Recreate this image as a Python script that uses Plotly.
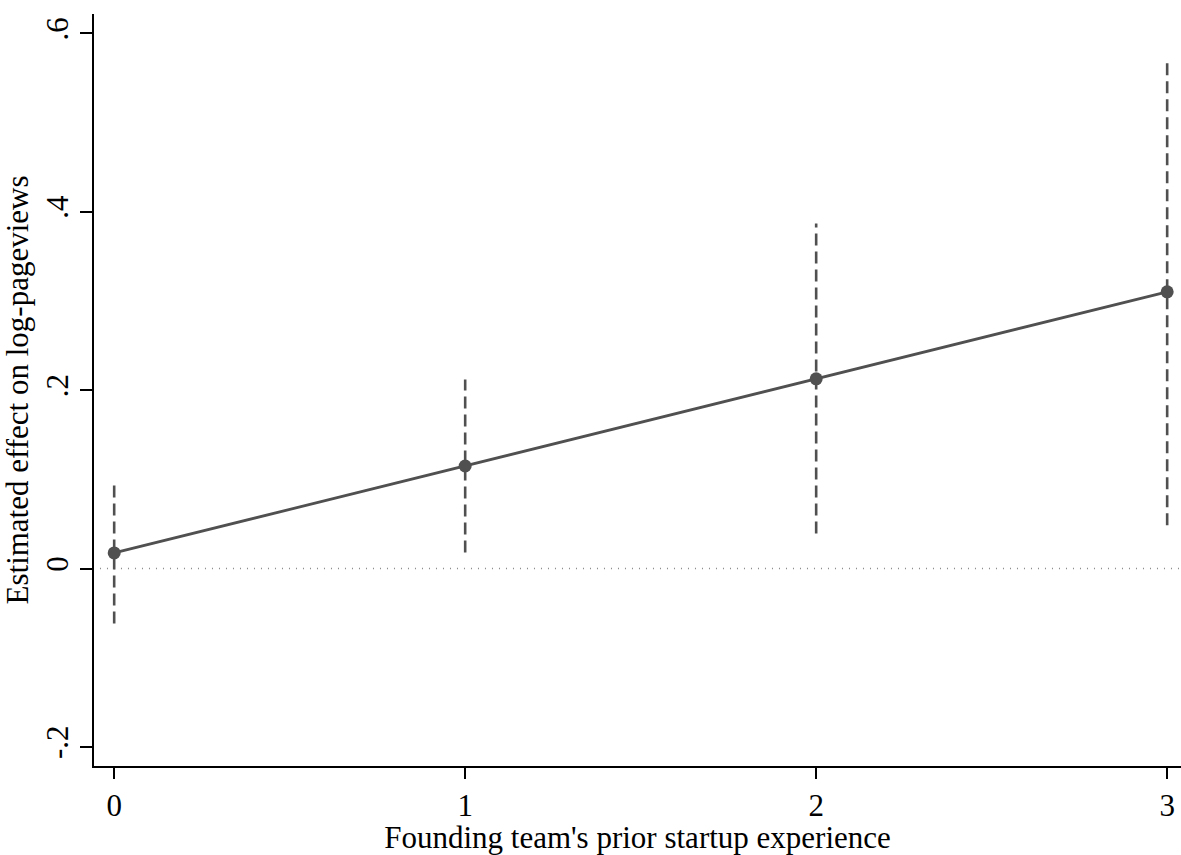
import plotly.graph_objects as go

# Estimated marginal effects by founding team's prior startup experience
experience = [0, 1, 2, 3]
effect = [0.0175, 0.115, 0.2127, 0.3103]
ci_low = [-0.0615, 0.018, 0.0393, 0.0486]
ci_high = [0.0965, 0.212, 0.387, 0.572]

x_ticks = [0, 1, 2, 3]
x_ticktext = ["0", "1", "2", "3"]
y_ticks = [-0.2, 0, 0.2, 0.4, 0.6]
y_ticktext = ["-.2", "0", ".2", ".4", ".6"]

MARK = "#505050"
FONT = "Liberation Serif, Times New Roman, serif"
FS = 31

fig = go.Figure()

# dashed confidence intervals
for xv, lo, hi in zip(experience, ci_low, ci_high):
    fig.add_trace(go.Scatter(
        x=[xv, xv], y=[lo, hi], mode="lines",
        line=dict(color=MARK, width=2.6, dash="12px,6px"),
        hoverinfo="skip", showlegend=False,
    ))

# point estimates connected
fig.add_trace(go.Scatter(
    x=experience, y=effect, mode="lines+markers",
    line=dict(color=MARK, width=2.8),
    marker=dict(color=MARK, size=13),
    showlegend=False,
))

# reference line at zero
fig.add_shape(type="line", xref="paper", yref="y",
              x0=0.0055, x1=1, y0=0, y1=0,
              line=dict(color="#8c8c8c", width=1.5, dash="1px,6px"),
              layer="below")

fig.update_layout(
    width=1181, height=855,
    margin=dict(l=94, r=0, t=14, b=89),
    plot_bgcolor="white", paper_bgcolor="white",
    font=dict(family=FONT, size=FS, color="black"),
    xaxis=dict(
        range=[-0.0575, 3.0394],
        tickvals=x_ticks, ticktext=x_ticktext,
        showgrid=False, zeroline=False,
        showline=True, linecolor="black", linewidth=1.5,
        ticks="outside", ticklen=11, tickwidth=1.5, tickcolor="black",
        tickfont=dict(family=FONT, size=FS),
        title=dict(text="Founding team's prior startup experience",
                   font=dict(family=FONT, size=FS), standoff=0),
    ),
    yaxis=dict(
        range=[-0.2214, 0.6218],
        tickvals=y_ticks, ticktext=y_ticktext,
        tickangle=-90,
        showgrid=False, zeroline=False,
        showline=True, linecolor="black", linewidth=1.5,
        ticks="outside", ticklen=12, tickwidth=1.5, tickcolor="black",
        tickfont=dict(family=FONT, size=FS),
        title=dict(text="Estimated effect on log-pageviews",
                   font=dict(family=FONT, size=FS), standoff=8),
    ),
)

fig.write_html("out.html")
